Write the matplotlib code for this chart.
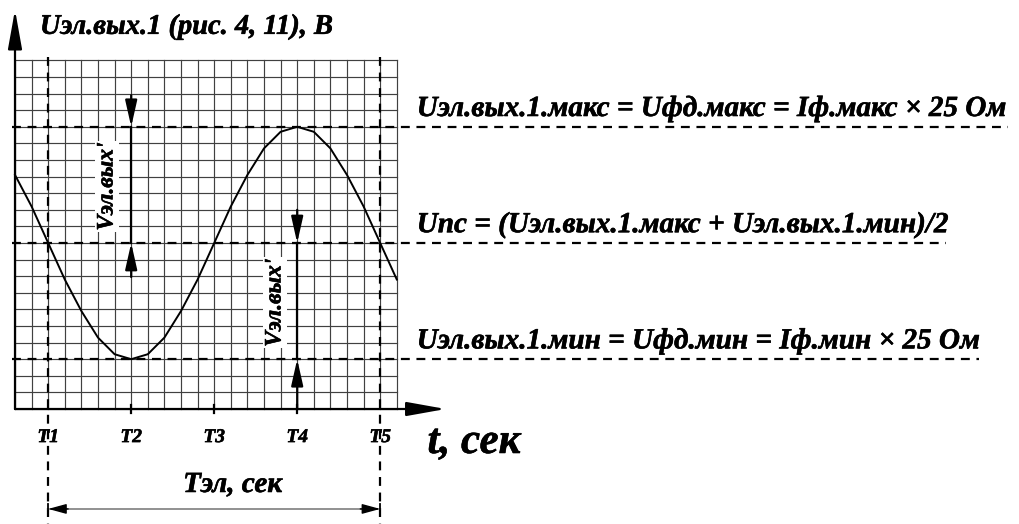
import matplotlib
matplotlib.use("Agg")
import matplotlib.pyplot as plt
import matplotlib.patheffects as pe

plt.rcParams["font.family"] = ["Liberation Serif", "DejaVu Serif"]
plt.rcParams["font.weight"] = "bold"
plt.rcParams["font.style"] = "italic"

# grid size in cells
n_cols = 23
n_rows = 21

# curve (one point per grid column)
t_cells = list(range(24))
u_values = [14.1, 12.2, 10.0, 7.8, 5.9, 4.3, 3.3, 3.0, 3.3, 4.3, 5.9, 7.8,
            10.0, 12.2, 14.1, 15.7, 16.7, 17.0, 16.7, 15.7, 14.1, 12.2, 10.0, 7.8]

u_max = 17
u_mid = 10
u_min = 3

T_pos = [2, 7, 12, 17, 22]
T_labels = ["T1", "T2", "T3", "T4", "T5"]

title = "Uэл.вых.1 (рис. 4, 11), В"
lbl_max = "Uэл.вых.1.макс = Uфд.макс = Iф.макс × 25 Ом"
lbl_mid = "Uпс = (Uэл.вых.1.макс + Uэл.вых.1.мин)/2"
lbl_min = "Uэл.вых.1.мин = Uфд.мин = Iф.мин × 25 Ом"
lbl_v = "Vэл.вых'"

# pixel -> cell mapping
cell = 16.6
W, H = 1020, 524
ox, oy = 15, 409

fig = plt.figure(figsize=(W / 100, H / 100), dpi=100)
ax = fig.add_axes([0, 0, 1, 1])
ax.set_xlim(-ox / cell, (W - ox) / cell)
ax.set_ylim(-(H - oy) / cell, oy / cell)
ax.axis("off")

heavy = [pe.withStroke(linewidth=0.4, foreground="k")]

# grid
for i in range(n_cols + 1):
    ax.plot([i, i], [0, n_rows], color="#404040", lw=0.85, zorder=1)
for j in range(n_rows + 1):
    ax.plot([0, n_cols], [j, j], color="#404040", lw=0.85, zorder=1)

# axes with arrows
ax.annotate("", xy=(0, 24.05), xytext=(0, 0),
            arrowprops=dict(arrowstyle="-|>,head_length=2.4,head_width=0.43",
                            lw=1.6, color="k", shrinkA=0, shrinkB=0), zorder=5)
ax.annotate("", xy=(25.95, 0), xytext=(0, 0),
            arrowprops=dict(arrowstyle="-|>,head_length=2.4,head_width=0.43",
                            lw=1.6, color="k", shrinkA=0, shrinkB=0), zorder=5)

# small ticks at T2..T4
for tp in T_pos[1:4]:
    ax.plot([tp, tp], [-0.25, 0.25], color="k", lw=1.6, zorder=5)

# level dashed lines
dash = dict(color="k", lw=1.6, dashes=(4, 3), zorder=3)
ax.plot([-0.18, 59.8], [u_max, u_max], **dash)
ax.plot([-0.18, 56.1], [u_mid, u_mid], **dash)
ax.plot([-0.18, 58.1], [u_min, u_min], **dash)

# vertical dashed at T1, T5
for tp in (T_pos[0], T_pos[4]):
    ax.plot([tp, tp], [21.2, -7.2], **dash)

# curve
ax.plot(t_cells, u_values, color="k", lw=1.4, zorder=4)

# dimension arrows
head = dict(arrowstyle="-|>,head_length=1.6,head_width=0.36", lw=1.6,
            color="k", shrinkA=0, shrinkB=0)
ax.annotate("", xy=(T_pos[1], u_max), xytext=(T_pos[1], 18.9), arrowprops=head, zorder=5)
ax.annotate("", xy=(T_pos[1], u_mid), xytext=(T_pos[1], 7.95), arrowprops=head, zorder=5)
ax.plot([T_pos[1], T_pos[1]], [u_mid, u_max], color="k", lw=1.6, zorder=5)
ax.annotate("", xy=(T_pos[3], u_mid), xytext=(T_pos[3], 12.0), arrowprops=head, zorder=5)
ax.annotate("", xy=(T_pos[3], u_min), xytext=(T_pos[3], 0), arrowprops=head, zorder=5)
ax.plot([T_pos[3], T_pos[3]], [u_min, u_mid], color="k", lw=1.6, zorder=5)

box = dict(facecolor="white", edgecolor="none", pad=1.0)
ax.text(5.54, 13.4, lbl_v, rotation=90, fontsize=17, ha="center", va="center",
        bbox=box, zorder=6, path_effects=heavy)
ax.text(15.66, 6.4, lbl_v, rotation=90, fontsize=17, ha="center", va="center",
        bbox=box, zorder=6, path_effects=heavy)

# period arrow
ax.plot([T_pos[0], T_pos[4]], [-6.02, -6.02], color="#888888", lw=1.3, zorder=4)
thead = dict(arrowstyle="-|>,head_length=1.1,head_width=0.3", lw=1.0,
             color="k", shrinkA=0, shrinkB=0)
ax.annotate("", xy=(T_pos[0], -6.02), xytext=(T_pos[0] + 1.2, -6.02), arrowprops=thead, zorder=5)
ax.annotate("", xy=(T_pos[4], -6.02), xytext=(T_pos[4] - 1.2, -6.02), arrowprops=thead, zorder=5)
for tp in (T_pos[0], T_pos[4]):
    ax.plot([tp, tp], [-6.3, -5.74], color="k", lw=1.3, zorder=5)

# texts
ax.text(1.5, 22.6, title, fontsize=20.5, ha="left", va="baseline", path_effects=heavy)
for lv, lt in ((u_max, lbl_max), (u_mid, lbl_mid), (u_min, lbl_min)):
    ax.text(24.2, lv + 0.65, lt, fontsize=21, ha="left", va="baseline", path_effects=heavy)
for tp, tl in zip(T_pos, T_labels):
    ax.text(tp, -1.72, tl, fontsize=14, ha="center", va="center", path_effects=heavy)
ax.text(24.85, -2.65, "t, сек", fontsize=31, ha="left", va="baseline", path_effects=heavy)
ax.text(13.1, -5.0, "Tэл, сек", fontsize=21, ha="center", va="baseline", path_effects=heavy)

fig.savefig("out.png", dpi=100)
